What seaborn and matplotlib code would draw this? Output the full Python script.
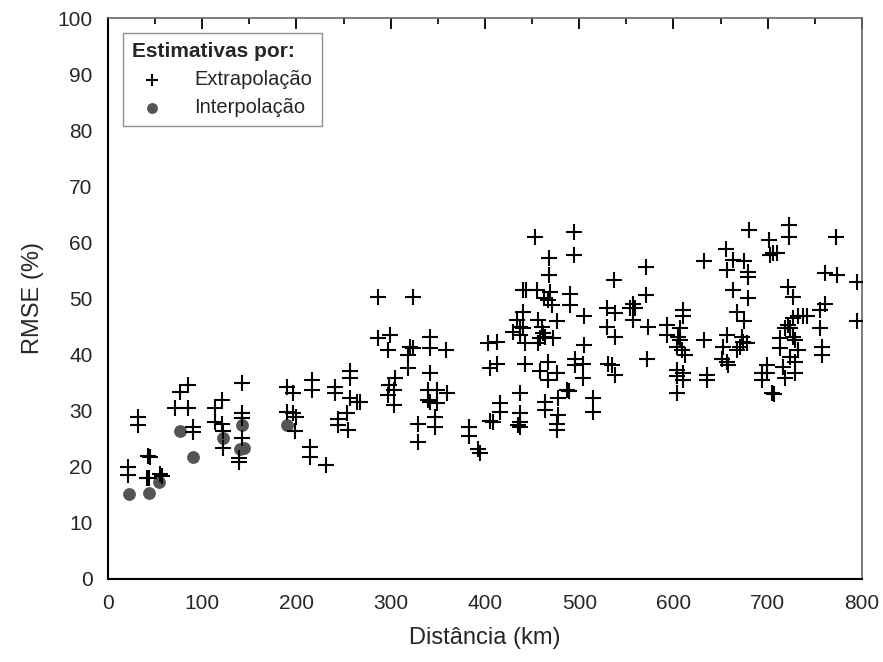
import matplotlib
matplotlib.use("Agg")
import matplotlib.pyplot as plt
import numpy as np
import seaborn as sns
from matplotlib.ticker import MultipleLocator

# Estimativas por extrapolacao: distancia (km) e RMSE (%)
extrap_km = [
    21, 21, 32, 32, 42, 45, 41, 44, 55, 57,
    76, 85, 71, 85, 90, 90,
    120.6, 113.5, 113.5, 120.6, 122.3, 122.3, 141.8, 141.8, 141.8, 141.8,
    139.3, 139.3, 190, 196.6, 190, 196.6, 200, 198.4,
    216, 216, 214.3, 214.3, 231.3, 240.8, 240.8, 244.4, 244.4, 253.3,
    255, 256.8, 256.8, 256.8, 263.8, 267.4, 286.8, 286.8, 299.2, 297.4,
    298, 297, 303, 304.5, 303,
    323.3, 320.4, 324, 318.6, 318.6, 341.6, 341.6, 358.6, 341.6, 339.9,
    348.7, 359.3, 339.9, 348.7, 341.6, 347, 347, 329.2, 329.2, 383.3,
    383.3, 393, 395,
    453, 468.2, 468.2, 440.6, 443, 454.8, 469, 490, 490, 462.6,
    467.2, 470.7, 440.6, 476, 433.6, 437, 430, 440.6, 442.4, 437,
    456.5, 460.1, 461.9, 458.4, 456.5, 463.7, 472.5, 403.5, 412.4, 405.3,
    412.4, 442.4, 467.2, 458.4, 467.2, 476, 487, 489, 437, 416,
    416, 463.7, 463.7, 477.8, 405, 408, 437, 437, 435, 437,
    477.8, 476, 476,
    494.4, 494.4, 570.8, 536.9, 570.8, 505, 529.2, 537.9, 529.2, 537.9,
    557.4, 553.8, 559.2, 557.4, 573.3, 505, 495.5, 495.5, 504.3, 504.3,
    530.8, 534.4, 537.9, 572.2, 514.3, 514.3,
    680, 655.7, 662.8, 656.4, 674.8, 632.4, 679, 679, 662.8, 679,
    667, 675, 610.4, 610.4, 592.8, 592.8, 606.9, 605.1, 606.9, 603.4,
    608.7, 612.2, 632.4, 657.1, 652.8, 651.1, 656.4, 658.2, 672.3, 674,
    670.6, 667, 677.6, 603.4, 610.4, 603.4, 610.4, 635.2, 635.2, 604,
    722.9, 722.9, 701.6, 772.4, 702.4, 706, 709.5, 760.6, 773, 794.4,
    721.8, 727.1, 760.6, 755.3, 727.1, 732.4, 737.7, 741.2, 721.8, 723.6,
    718.3, 794.4, 755.3, 727.1, 728.9, 713, 713, 732.4, 757.1, 757.1,
    723.6, 728.9, 716.5, 728.9, 718.3, 698.8, 693.5, 698.8, 693.5, 705,
    707,
]
extrap_rmse = [
    20.0, 18.5, 28.9, 27.4, 22.0, 21.8, 18.0, 18.0, 18.8, 18.4,
    33.3, 34.6, 30.5, 30.5, 27.1, 26.2,
    31.9, 30.4, 28.0, 27.7, 26.3, 23.3, 34.9, 29.5, 28.7, 25.1,
    21.5, 20.9, 34.3, 33.1, 29.8, 29.5, 28.9, 26.3,
    35.5, 33.7, 23.6, 21.8, 20.3, 34.3, 33.1, 28.6, 27.4, 29.5,
    26.6, 37.0, 35.8, 32.2, 31.6, 31.6, 50.3, 42.9, 43.5, 40.8,
    34.5, 32.8, 33.7, 35.8, 31.0,
    50.3, 41.4, 41.1, 39.9, 37.6, 43.2, 41.1, 40.8, 36.7, 33.7,
    33.7, 33.1, 31.9, 31.3, 31.6, 28.9, 27.1, 27.7, 24.5, 27.1,
    25.4, 23.2, 22.4,
    61.0, 57.2, 54.2, 51.5, 51.5, 51.5, 51.2, 50.8, 48.9, 50.0,
    49.7, 48.8, 47.6, 45.9, 46.2, 45.0, 44.1, 44.7, 42.0, 43.5,
    46.2, 45.0, 43.8, 42.9, 42.0, 43.2, 42.9, 42.0, 42.3, 37.6,
    38.4, 38.4, 38.7, 37.0, 35.5, 36.7, 33.7, 33.5, 33.1, 31.3,
    29.8, 31.6, 30.1, 32.2, 28.2, 28.0, 29.5, 28.0, 27.4, 27.1,
    29.2, 27.7, 26.6,
    61.9, 57.8, 55.7, 53.3, 50.6, 46.8, 48.3, 47.4, 45.0, 43.2,
    49.1, 48.3, 48.3, 46.2, 45.0, 41.7, 39.3, 38.1, 38.4, 35.8,
    38.4, 38.1, 36.4, 39.3, 32.2, 29.8,
    62.2, 58.9, 56.9, 55.1, 56.6, 56.6, 54.8, 53.9, 51.5, 50.0,
    47.6, 45.9, 47.9, 46.8, 45.3, 43.5, 44.7, 43.2, 42.6, 41.4,
    40.8, 39.9, 42.6, 43.5, 41.4, 39.3, 38.7, 38.1, 43.2, 42.3,
    41.4, 40.8, 42.0, 37.3, 36.7, 36.1, 35.5, 36.4, 35.5, 33.2,
    63.1, 61.0, 60.4, 61.0, 57.8, 58.1, 58.1, 54.5, 54.2, 53.0,
    52.1, 50.3, 49.1, 47.9, 46.5, 46.8, 46.8, 46.8, 45.3, 44.7,
    44.7, 45.9, 44.7, 43.2, 42.6, 42.9, 41.1, 40.8, 41.4, 39.9,
    39.6, 38.7, 37.8, 36.7, 35.8, 38.1, 36.7, 36.7, 35.5, 33.1,
    32.9,
]

# Estimativas por interpolacao
interp_km = [22, 43.5, 54, 76, 90, 122.3, 140.5, 144, 141.8, 190.2]
interp_rmse = [15.2, 15.3, 17.3, 26.3, 21.8, 25.1, 23.2, 23.4, 27.5, 27.4]

sns.set_style("white")
plt.rcParams["font.family"] = ["Liberation Sans", "DejaVu Sans"]

fig = plt.figure(figsize=(8.83, 6.62), dpi=100)
ax = fig.add_axes([0.1223, 0.1254, 0.8539, 0.8474])

sns.scatterplot(x=extrap_km, y=extrap_rmse, marker="+", color="black",
                s=120, linewidth=1.5, ax=ax, label="Extrapolação", zorder=3)
sns.scatterplot(x=interp_km, y=interp_rmse, marker="o", color="#555555",
                s=85, edgecolor="#555555", linewidth=0, ax=ax,
                label="Interpolação", zorder=2)

ax.set_xlim(0, 800)
ax.set_ylim(0, 100)
ax.xaxis.set_major_locator(MultipleLocator(100))
ax.xaxis.set_minor_locator(MultipleLocator(50))
ax.yaxis.set_major_locator(MultipleLocator(10))
ax.yaxis.set_minor_locator(MultipleLocator(5))

ax.tick_params(axis="both", which="major", direction="out", length=7,
               width=1.3, labelsize=15, color="black", pad=4)
ax.tick_params(axis="both", which="minor", direction="out", length=4,
               width=1.2, color="black")
ax.tick_params(axis="x", which="both", top=True, labeltop=False)
# top ticks point inward
for t in ax.xaxis.get_major_ticks():
    t.tick2line.set_marker(3)
    t.tick2line.set_markersize(8)
    t.tick2line.set_color("#555555")
for t in ax.xaxis.get_minor_ticks():
    t.tick2line.set_marker(3)
    t.tick2line.set_markersize(4)
    t.tick2line.set_color("#555555")

for side in ["left", "bottom"]:
    ax.spines[side].set_color("black")
    ax.spines[side].set_linewidth(1.5)
for side in ["top", "right"]:
    ax.spines[side].set_color("#666666")
    ax.spines[side].set_linewidth(1.2)

ax.set_xlabel("Distância (km)", fontsize=17, labelpad=10)
ax.set_ylabel("RMSE (%)", fontsize=17, labelpad=10)

leg = ax.legend(title="Estimativas por:", loc="upper left",
                bbox_to_anchor=(0.02, 0.973), borderaxespad=0,
                alignment="left",
                title_fontproperties={"weight": "bold", "size": 15},
                fontsize=14.5, frameon=True, fancybox=False,
                edgecolor="#777777", borderpad=0.45, handletextpad=1.1,
                labelspacing=0.45, markerscale=0.85)
leg.get_frame().set_linewidth(1.0)

fig.savefig("out.png", dpi=100)
